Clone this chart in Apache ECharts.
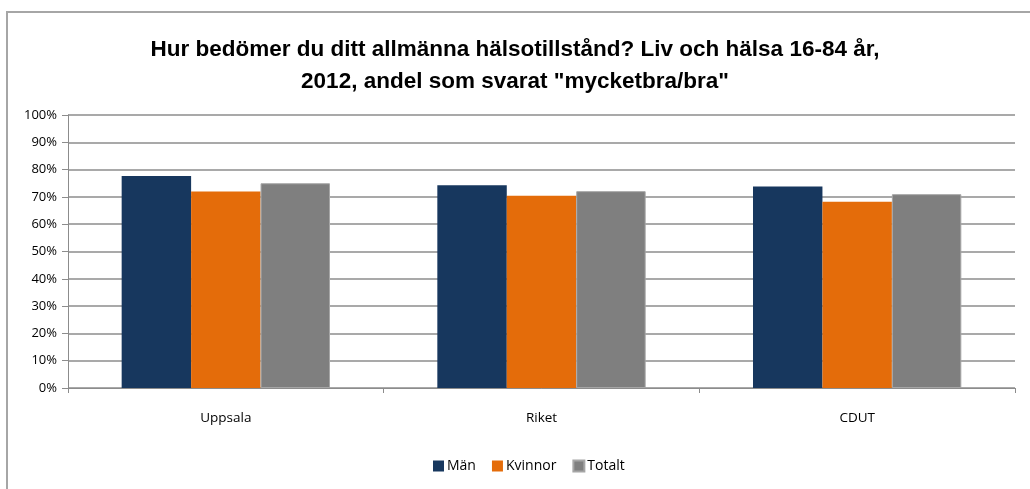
<!DOCTYPE html>
<html>
<head>
<meta charset="utf-8">
<script src="https://cdn.jsdelivr.net/npm/echarts@6/dist/echarts.min.js"></script>
<style>
    html, body { margin: 0; padding: 0; background: #fff; }
    #chart { width: 1030px; height: 489px; }
</style>
</head>
<body>
<div id="chart"></div>
<script>
//数据
const categories = ['Uppsala', 'Riket', 'CDUT'];
const man = [77.7, 74.3, 73.8];
const kvinnor = [72.0, 70.4, 68.2];
const totalt = [75.0, 72.1, 71.0];
const yTicks = [0, 10, 20, 30, 40, 50, 60, 70, 80, 90, 100];

const font = "'Liberation Sans', sans-serif";
const labelFont = "'Open Sans', 'Liberation Sans', sans-serif";

let chart = echarts.init(document.getElementById('chart'));

let option = {
    animation: false,
    title: {
        text: 'Hur bedömer du ditt allmänna hälsotillstånd? Liv och hälsa 16-84 år,\n2012, andel som svarat "mycketbra/bra"',
        left: 'center',
        top: 29,
        textStyle: {
            fontFamily: font,
            fontWeight: 'bold',
            fontSize: 22.5,
            lineHeight: 32,
            color: '#000'
        }
    },
    graphic: [{
        type: 'rect',
        shape: { x: 7, y: 12, width: 1040, height: 500 },
        style: { fill: 'none', stroke: '#a6a6a6', lineWidth: 2 },
        silent: true
    }],
    legend: {
        bottom: 11,
        left: 428,
        itemWidth: 11,
        itemHeight: 11,
        itemGap: 16,
        icon: 'rect',
        textStyle: { fontFamily: labelFont, fontSize: 14, color: '#000', padding: [0, 0, 0, -2] },
        data: ['Män', 'Kvinnor', 'Totalt']
    },
    grid: {
        left: 68,
        right: 15,
        top: 115,
        bottom: 101
    },
    xAxis: {
        type: 'category',
        data: categories,
        axisLine: { lineStyle: { color: '#8c8c8c', width: 1 } },
        axisTick: { show: true, length: 5, lineStyle: { color: '#8c8c8c' } },
        axisLabel: { fontFamily: labelFont, fontSize: 13.5, color: '#000', margin: 23 }
    },
    yAxis: {
        type: 'value',
        min: 0,
        max: 100,
        interval: 10,
        axisLine: { show: true, lineStyle: { color: '#8c8c8c' } },
        axisTick: { show: true, length: 6, lineStyle: { color: '#8c8c8c' } },
        splitLine: { lineStyle: { color: '#8c8c8c', width: 1.5 } },
        axisLabel: {
            fontFamily: labelFont,
            fontSize: 13,
            color: '#000',
            margin: 11,
            formatter: function (v) { return yTicks.indexOf(v) >= 0 ? v + '%' : ''; }
        }
    },
    series: [
        {
            name: 'Män',
            type: 'bar',
            data: man,
            barGap: '0%',
            barCategoryGap: '34%',
            itemStyle: { color: '#17375e' }
        },
        {
            name: 'Kvinnor',
            type: 'bar',
            data: kvinnor,
            itemStyle: { color: '#e46c0a' }
        },
        {
            name: 'Totalt',
            type: 'bar',
            data: totalt,
            itemStyle: { color: '#7f7f7f', borderColor: '#a6a6a6', borderWidth: 1 }
        }
    ]
};
chart.setOption(option);
</script>
</body>
</html>
